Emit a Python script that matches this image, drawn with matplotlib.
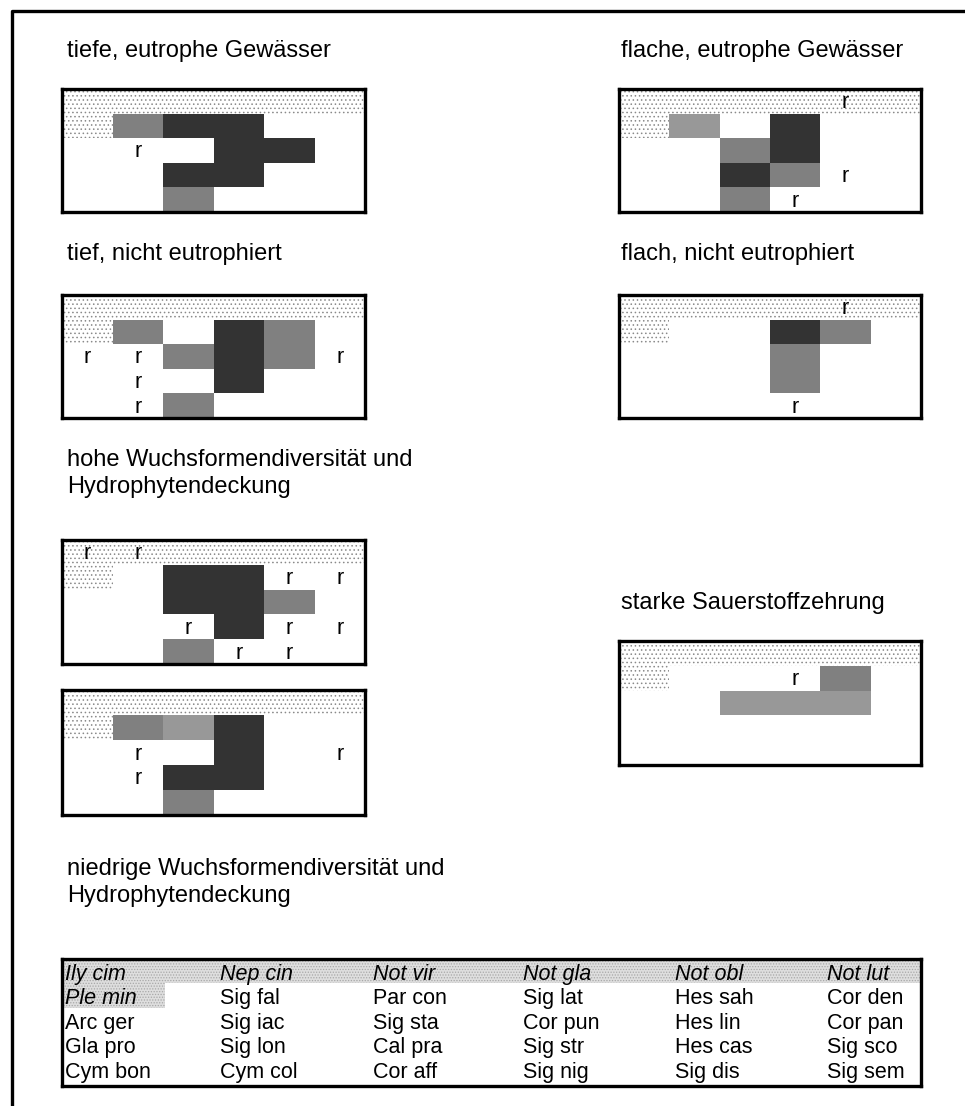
import matplotlib.pyplot as plt
from matplotlib.patches import Rectangle

plt.rcParams['font.family'] = ['Liberation Sans', 'DejaVu Sans']
plt.rcParams['hatch.linewidth'] = 0.6

W, H = 965, 1106

# zellcodes je zeile (6 spalten): d = dunkel, m = mittel, l = hell, r = selten, . = leer
tief_eutroph = ["......", ".mdd..", ".r.dd.", "..dd..", "..m..."]
flach_eutroph = ["....r.", ".l.d..", "..md..", "..dmr.", "..mr.."]
tief_nicht = ["......", ".m.dm.", "rrmdmr", ".r.d..", ".rm..."]
flach_nicht = ["....r.", "...dm.", "...m..", "...m..", "...r.."]
hohe_div = ["rr....", "..ddrr", "..ddm.", "..rdrr", "..mrr."]
niedrige_div = ["......", ".mld..", ".r.d.r", ".rdd..", "..m..."]
sauerstoff = ["......", "...rm.", "..lll.", "......", "......"]

# artenschluessel, spaltenweise
arten = [
    ["Ily cim", "Ple min", "Arc ger", "Gla pro", "Cym bon"],
    ["Nep cin", "Sig fal", "Sig iac", "Sig lon", "Cym col"],
    ["Not vir", "Par con", "Sig sta", "Cal pra", "Cor aff"],
    ["Not gla", "Sig lat", "Cor pun", "Sig str", "Sig nig"],
    ["Not obl", "Hes sah", "Hes lin", "Hes cas", "Sig dis"],
    ["Not lut", "Cor den", "Cor pan", "Sig sco", "Sig sem"],
]

farben = {"d": "#333333", "m": "#808080", "l": "#989898"}


def px_axes(fig, x0, y0, x1, y1):
    return fig.add_axes([x0 / W, 1 - y1 / H, (x1 - x0) / W, (y1 - y0) / H])


def panel(fig, grid, x0, y0, x1, y1):
    ax = px_axes(fig, x0, y0, x1, y1)
    ax.set_xlim(0, 6)
    ax.set_ylim(5, 0)
    ax.set_xticks([])
    ax.set_yticks([])
    for s in ax.spines.values():
        s.set_linewidth(2.4)
    # punktraster oben
    for (x, y, w) in [(0, 0, 6), (0, 1, 1)]:
        ax.add_patch(Rectangle((x, y), w, 1, facecolor="white", edgecolor="#8a8a8a",
                               hatch="....", lw=0))
    for i, zeile in enumerate(grid):
        for j, c in enumerate(zeile):
            if c in farben:
                ax.add_patch(Rectangle((j, i), 1, 1, facecolor=farben[c], lw=0))
            elif c == "r":
                ax.text(j + 0.5, i + 0.78, "r", ha="center", va="baseline", fontsize=15.5)
    return ax


fig = plt.figure(figsize=(W / 100, H / 100), dpi=100)

bg = fig.add_axes([0, 0, 1, 1])
bg.set_xlim(0, W)
bg.set_ylim(H, 0)
bg.axis("off")
bg.plot([12, 12, W + 5], [H + 5, 11, 11], color="black", lw=2.4)

titel = [
    (67, 57, "tiefe, eutrophe Gewässer"),
    (621, 57, "flache, eutrophe Gewässer"),
    (67, 260, "tief, nicht eutrophiert"),
    (621, 260, "flach, nicht eutrophiert"),
    (67, 466, "hohe Wuchsformendiversität und"),
    (67, 493, "Hydrophytendeckung"),
    (621, 609, "starke Sauerstoffzehrung"),
    (67, 875, "niedrige Wuchsformendiversität und"),
    (67, 902, "Hydrophytendeckung"),
]
for x, y, t in titel:
    bg.text(x, y, t, fontsize=17, ha="left", va="baseline")

panel(fig, tief_eutroph, 62, 89, 365, 212)
panel(fig, flach_eutroph, 619, 89, 921, 212)
panel(fig, tief_nicht, 62, 295, 365, 418)
panel(fig, flach_nicht, 619, 295, 921, 418)
panel(fig, hohe_div, 62, 540, 365, 664)
panel(fig, niedrige_div, 62, 690, 365, 815)
panel(fig, sauerstoff, 619, 641, 921, 765)

# schluessel-tabelle
lg = px_axes(fig, 62, 959, 921, 1086)
lg.set_xlim(0, 859)
lg.set_ylim(127, 0)
lg.set_xticks([])
lg.set_yticks([])
for s in lg.spines.values():
    s.set_linewidth(2.4)
for (x, y, w, h) in [(0, 0, 859, 24), (0, 24, 103, 25)]:
    lg.add_patch(Rectangle((x, y), w, h, facecolor="#dedede", edgecolor="#a8a8a8",
                           hatch="......", lw=0))
spalten_x = [3, 158, 311, 461, 613, 765]
zeilen_y = [21, 45, 70, 94, 119]
for j, spalte in enumerate(arten):
    for i, name in enumerate(spalte):
        kursiv = i == 0 or (i == 1 and j == 0)
        lg.text(spalten_x[j], zeilen_y[i], name, fontsize=15.5, ha="left", va="baseline",
                style="italic" if kursiv else "normal")

fig.savefig("out.png", dpi=100)
